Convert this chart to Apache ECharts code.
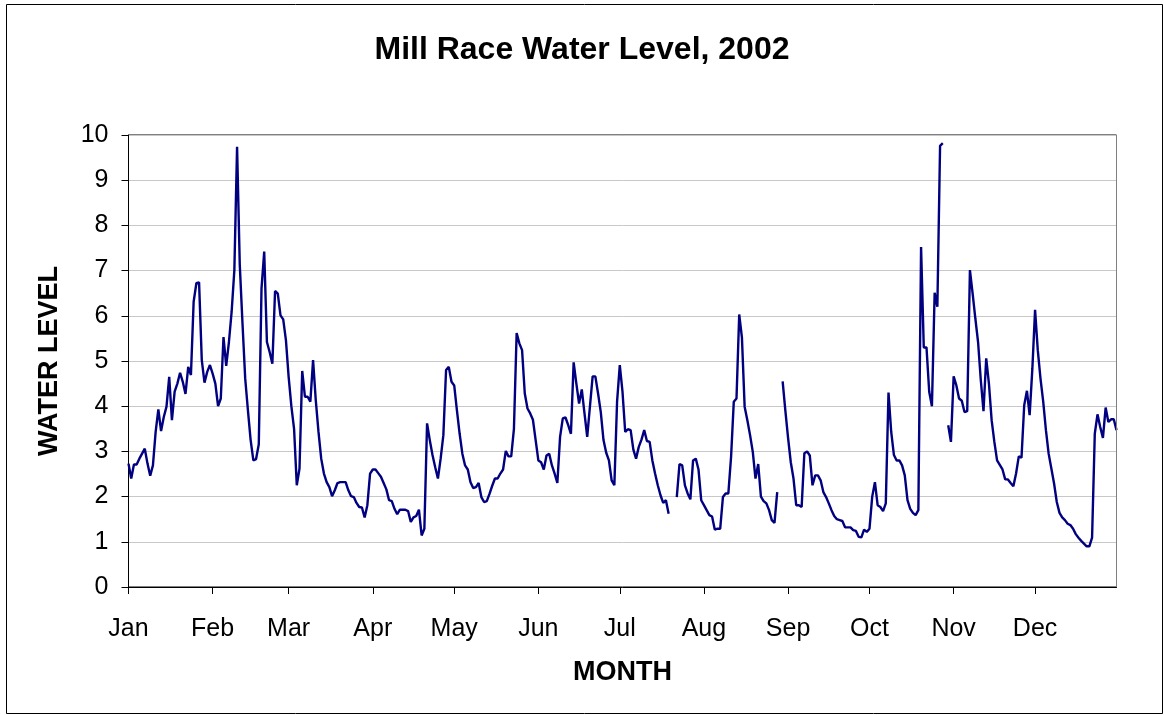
<!DOCTYPE html>
<html>
<head>
<meta charset="utf-8">
<title>Mill Race Water Level, 2002</title>
<script src="https://cdn.jsdelivr.net/npm/echarts@6/dist/echarts.min.js"></script>
<style>
  html, body { margin: 0; padding: 0; background: #ffffff; }
  #chart { width: 1164px; height: 715px; }
</style>
</head>
<body>
<div id="chart"></div>
<script>
// Daily water level readings for 2002, one array per month (null = no reading).
const monthNames = ['Jan', 'Feb', 'Mar', 'Apr', 'May', 'Jun', 'Jul', 'Aug', 'Sep', 'Oct', 'Nov', 'Dec'];

const jan = [2.73, 2.40, 2.71, 2.71, 2.84, 2.95, 3.06, 2.73, 2.46, 2.69, 3.43, 3.93, 3.45, 3.76, 3.99, 4.65,
  3.69, 4.32, 4.50, 4.74, 4.54, 4.27, 4.87, 4.69, 6.31, 6.72, 6.74, 5.02, 4.52, 4.76, 4.91];
const feb = [4.72, 4.50, 4.00, 4.17, 5.53, 4.89, 5.42, 6.09, 7.01, 9.74, 7.12, 5.83, 4.61, 3.91, 3.25, 2.80,
  2.83, 3.16, 6.60, 7.42, 5.42, 5.20, 4.94, 6.55, 6.49, 6.01, 5.92, 5.46];
const mar = [4.65, 4.00, 3.50, 2.25, 2.62, 4.78, 4.21, 4.21, 4.10, 5.02, 4.13, 3.43, 2.84, 2.51, 2.32, 2.21,
  2.01, 2.14, 2.30, 2.32, 2.32, 2.32, 2.14, 2.01, 1.99, 1.86, 1.77, 1.76, 1.54, 1.81, 2.51];
const apr = [2.60, 2.60, 2.52, 2.44, 2.30, 2.16, 1.92, 1.90, 1.73, 1.61, 1.71, 1.71, 1.71, 1.68, 1.44, 1.54,
  1.57, 1.71, 1.14, 1.29, 3.62, 3.25, 2.92, 2.65, 2.40, 2.84, 3.36, 4.80, 4.87, 4.54];
const may = [4.46, 3.91, 3.39, 2.95, 2.69, 2.60, 2.32, 2.19, 2.21, 2.30, 1.99, 1.88, 1.90, 2.06, 2.24, 2.40,
  2.40, 2.51, 2.60, 3.01, 2.89, 2.89, 3.50, 5.62, 5.39, 5.24, 4.28, 3.95, 3.84, 3.70, 3.25];
const jun = [2.80, 2.76, 2.60, 2.91, 2.95, 2.69, 2.51, 2.30, 3.32, 3.73, 3.75, 3.58, 3.39, 4.97, 4.50, 4.06,
  4.37, 3.84, 3.32, 3.99, 4.66, 4.66, 4.28, 3.87, 3.25, 2.97, 2.80, 2.36, 2.25, 4.10];
const jul = [4.91, 4.32, 3.43, 3.49, 3.47, 3.04, 2.84, 3.10, 3.26, 3.47, 3.23, 3.21, 2.80, 2.51, 2.25, 2.03,
  1.86, 1.92, 1.62, null, null, 1.99, 2.72, 2.69, 2.25, 2.07, 1.94, 2.80, 2.84, 2.60, 1.92];
const aug = [1.81, 1.70, 1.59, 1.56, 1.27, 1.29, 1.29, 1.99, 2.07, 2.07, 2.88, 4.10, 4.17, 6.03, 5.52, 3.99,
  3.69, 3.36, 2.99, 2.40, 2.72, 2.00, 1.90, 1.85, 1.70, 1.48, 1.42, 2.10, null, 4.55, 3.90];
const sep = [3.30, 2.76, 2.40, 1.81, 1.81, 1.77, 2.96, 3.00, 2.91, 2.25, 2.47, 2.47, 2.36, 2.10, 1.99, 1.85,
  1.70, 1.57, 1.50, 1.48, 1.46, 1.32, 1.32, 1.32, 1.26, 1.24, 1.11, 1.10, 1.27, 1.22];
const oct = [1.29, 2.00, 2.32, 1.81, 1.77, 1.68, 1.85, 4.30, 3.43, 2.92, 2.80, 2.80, 2.69, 2.47, 1.92, 1.73,
  1.64, 1.59, 1.70, 7.52, 5.30, 5.30, 4.32, 4.00, 6.51, 6.20, 9.76, 9.82, null, 3.58, 3.21];
const nov = [4.66, 4.46, 4.17, 4.12, 3.87, 3.89, 7.01, 6.49, 5.94, 5.42, 4.58, 3.89, 5.06, 4.50, 3.69, 3.21,
  2.80, 2.70, 2.60, 2.38, 2.38, 2.30, 2.23, 2.51, 2.89, 2.86, 4.02, 4.34, 3.80, 4.83];
const dec = [6.13, 5.24, 4.61, 4.10, 3.47, 2.95, 2.62, 2.29, 1.88, 1.64, 1.54, 1.48, 1.40, 1.37, 1.29, 1.17,
  1.09, 1.02, 0.96, 0.90, 0.90, 1.09, 3.39, 3.82, 3.54, 3.30, 3.97, 3.65, 3.71, 3.71, 3.47];

const yTicks = [0, 1, 2, 3, 4, 5, 6, 7, 8, 9, 10];

const months = [jan, feb, mar, apr, may, jun, jul, aug, sep, oct, nov, dec];

// One category per day; remember where each month begins for ticks and labels.
const dayLabels = [];
const levels = [];
const monthStart = {};
months.forEach((vals, m) => {
  monthStart[dayLabels.length] = monthNames[m];
  vals.forEach((v, d) => {
    dayLabels.push(monthNames[m] + ' ' + (d + 1));
    levels.push(v);
  });
});

const FONT = '"Liberation Sans", Arial, Helvetica, sans-serif';
const isMonthStart = (idx) => monthStart[idx] !== undefined;

const chart = echarts.init(document.getElementById('chart'), null, { renderer: 'canvas' });

chart.setOption({
  animation: false,
  backgroundColor: '#ffffff',
  textStyle: { fontFamily: FONT, color: '#000000' },
  title: {
    text: 'Mill Race Water Level, 2002',
    left: 'center',
    top: 29,
    textStyle: { fontFamily: FONT, fontSize: 32, fontWeight: 'bold', color: '#000000' }
  },
  grid: {
    left: 128.5,
    right: 47.5,
    top: 135,
    bottom: 128,
    show: true,
    borderColor: '#000000',
    borderWidth: 1
  },
  xAxis: {
    type: 'category',
    data: dayLabels,
    boundaryGap: false,
    name: 'MONTH',
    nameLocation: 'middle',
    nameGap: 72,
    nameTextStyle: { fontFamily: FONT, fontSize: 27, fontWeight: 'bold', color: '#000000' },
    axisLine: { lineStyle: { color: '#000000', width: 1 } },
    axisTick: { show: true, interval: isMonthStart, length: 7, inside: false, lineStyle: { color: '#000000' } },
    axisLabel: {
      interval: isMonthStart,
      formatter: (value, idx) => monthStart[idx] || '',
      fontFamily: FONT,
      fontSize: 25,
      color: '#000000',
      margin: 30
    },
    splitLine: { show: false }
  },
  yAxis: {
    type: 'value',
    min: yTicks[0],
    max: yTicks[yTicks.length - 1],
    interval: 1,
    name: 'WATER LEVEL',
    nameLocation: 'middle',
    nameRotate: 90,
    nameGap: 65,
    nameTextStyle: { fontFamily: FONT, fontSize: 27, fontWeight: 'bold', color: '#000000' },
    axisLine: { show: true, lineStyle: { color: '#000000', width: 1 } },
    axisTick: { show: true, length: 7, inside: false, lineStyle: { color: '#000000' } },
    axisLabel: { fontFamily: FONT, fontSize: 25, color: '#000000', margin: 20 },
    splitLine: { show: true, lineStyle: { color: '#c8c8c8', width: 1 } }
  },
  series: [{
    name: 'Water level',
    type: 'line',
    data: levels,
    showSymbol: false,
    symbol: 'none',
    connectNulls: false,
    lineStyle: { color: '#000080', width: 2.4 },
    z: 3
  }],
  graphic: [
    {
      type: 'rect',
      shape: { x: 6.5, y: 4.5, width: 1156, height: 709 },
      style: { fill: 'none', stroke: '#000000', lineWidth: 1 },
      silent: true
    },
    {
      type: 'line',
      shape: { x1: 1116.5, y1: 135, x2: 1116.5, y2: 587 },
      style: { stroke: '#808080', lineWidth: 1 },
      z: 10,
      silent: true
    }
  ]
});
</script>
</body>
</html>
